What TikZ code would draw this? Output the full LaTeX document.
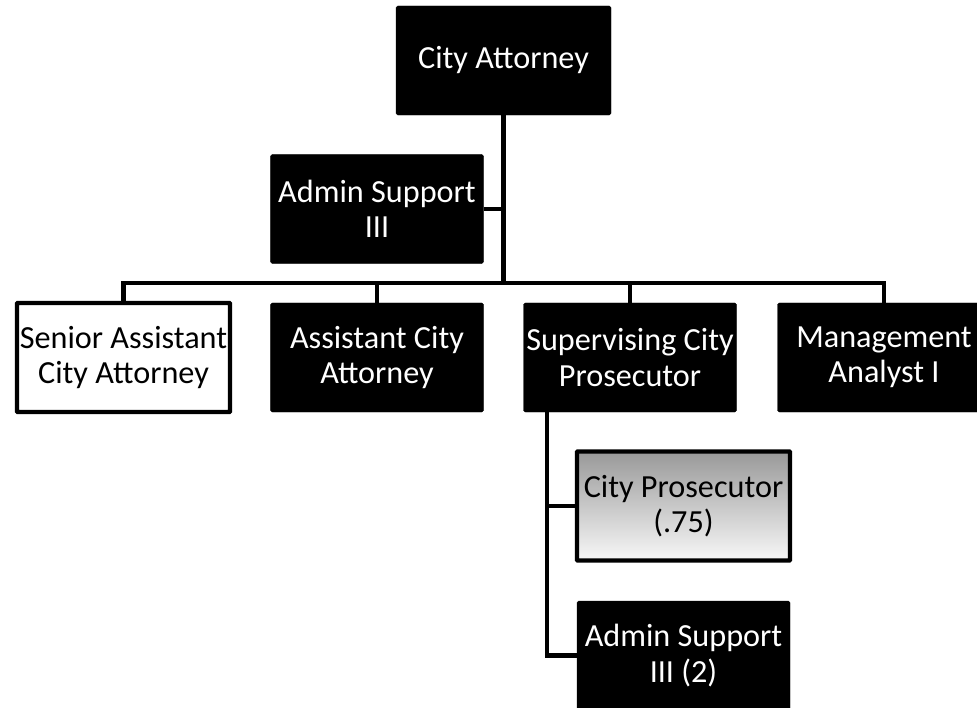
\documentclass[tikz,border=0pt]{standalone}
\usepackage{fontspec}
\setmainfont{Carlito}
\usetikzlibrary{positioning}

\begin{document}
\begin{tikzpicture}[
    x=0.03cm, y=-0.03cm,
    darkBox/.style={rectangle, rounded corners=1.5pt, fill=black, draw=black, text=white, minimum width=6.39cm, minimum height=3.27cm, align=center, inner sep=1pt, font=\fontsize{27.5}{30}\selectfont},
    lightBox/.style={darkBox, fill=white, text=black, rounded corners=0.5pt, line width=3.5pt},
    shadeBox/.style={lightBox, top color=black!40, bottom color=black!3},
    orgLine/.style={line width=3.5pt, black}
]
    \useasboundingbox (0,0) rectangle (977,708);

    % Top level
    \node[darkBox, minimum width=6.45cm] (chief) at (503.5,60.5) {City Attorney};
    \node[darkBox] (admin) at (377,209) {Admin Support\\III};

    % Direct reports
    \node[lightBox] (senior) at (123.5,357.5) {Senior Assistant\\City Attorney};
    \node[darkBox]  (asst)   at (377,357.5)   {Assistant City\\Attorney};
    \node[darkBox]  (sup)    at (630,357.5)   {Supervising City\\Prosecutor};
    \node[darkBox]  (mgmt)   at (884,357.5)   {Management\\Analyst I};

    % Under the supervising prosecutor
    \node[shadeBox] (pros) at (683.5,506)   {City Prosecutor\\(.75)};
    \node[darkBox]  (adm2) at (683.5,655.5) {Admin Support\\III (2)};

    % Connectors
    \coordinate (bus) at (503.5,283);
    \coordinate (subTop) at (547,412);
    \draw[orgLine] (chief.south) -- (bus);
    \draw[orgLine] (admin.east) -- (admin.east -| chief.south);
    \draw[orgLine] (senior.north) |- (bus) -| (mgmt.north);
    \draw[orgLine] (asst.north) |- (bus);
    \draw[orgLine] (sup.north) |- (bus);
    \draw[orgLine] (subTop) |- (pros.west);
    \draw[orgLine] (subTop) |- (adm2.west);
\end{tikzpicture}
\end{document}
